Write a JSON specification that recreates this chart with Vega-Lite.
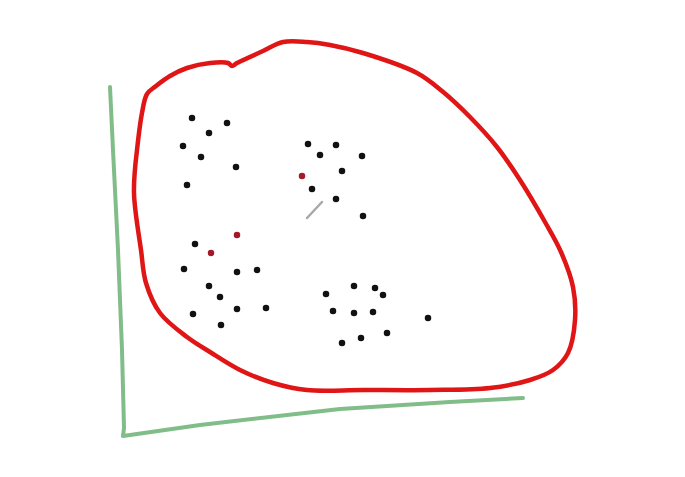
{
  "$schema": "https://vega.github.io/schema/vega-lite/v6.json",
  "width": 685,
  "height": 477,
  "autosize": {"type": "fit", "contains": "padding"},
  "padding": 0,
  "background": "white",
  "config": {"view": {"stroke": null}},
  "datasets": {
    "axes": [
      {"i": 0, "x": 110, "y": 87},
      {"i": 1, "x": 113, "y": 150},
      {"i": 2, "x": 118, "y": 250},
      {"i": 3, "x": 122, "y": 350},
      {"i": 4, "x": 124, "y": 428},
      {"i": 5, "x": 123, "y": 436},
      {"i": 6, "x": 200, "y": 425},
      {"i": 7, "x": 340, "y": 409},
      {"i": 8, "x": 450, "y": 402},
      {"i": 9, "x": 523, "y": 398}
    ],
    "curve": [
      {"i": 0, "x": 137, "y": 150},
      {"i": 1, "x": 142, "y": 113},
      {"i": 2, "x": 147, "y": 94},
      {"i": 3, "x": 156, "y": 86},
      {"i": 4, "x": 170, "y": 76},
      {"i": 5, "x": 187, "y": 68},
      {"i": 6, "x": 210, "y": 63},
      {"i": 7, "x": 228, "y": 63},
      {"i": 8, "x": 232, "y": 66},
      {"i": 9, "x": 237, "y": 63},
      {"i": 10, "x": 263, "y": 51},
      {"i": 11, "x": 283, "y": 42},
      {"i": 12, "x": 307, "y": 42},
      {"i": 13, "x": 330, "y": 45},
      {"i": 14, "x": 363, "y": 53},
      {"i": 15, "x": 417, "y": 73},
      {"i": 16, "x": 442, "y": 91},
      {"i": 17, "x": 470, "y": 117},
      {"i": 18, "x": 497, "y": 147},
      {"i": 19, "x": 520, "y": 180},
      {"i": 20, "x": 545, "y": 222},
      {"i": 21, "x": 561, "y": 252},
      {"i": 22, "x": 573, "y": 287},
      {"i": 23, "x": 575, "y": 320},
      {"i": 24, "x": 568, "y": 353},
      {"i": 25, "x": 553, "y": 370},
      {"i": 26, "x": 530, "y": 380},
      {"i": 27, "x": 490, "y": 388},
      {"i": 28, "x": 430, "y": 390},
      {"i": 29, "x": 363, "y": 390},
      {"i": 30, "x": 307, "y": 390},
      {"i": 31, "x": 273, "y": 383},
      {"i": 32, "x": 240, "y": 370},
      {"i": 33, "x": 210, "y": 352},
      {"i": 34, "x": 187, "y": 337},
      {"i": 35, "x": 160, "y": 313},
      {"i": 36, "x": 146, "y": 283},
      {"i": 37, "x": 141, "y": 250},
      {"i": 38, "x": 134, "y": 193},
      {"i": 39, "x": 137, "y": 150}
    ],
    "stroke": [
      {"i": 0, "x": 307, "y": 218},
      {"i": 1, "x": 322, "y": 202}
    ],
    "dots": [
      {"x": 192, "y": 118, "kind": "black"},
      {"x": 227, "y": 123, "kind": "black"},
      {"x": 209, "y": 133, "kind": "black"},
      {"x": 183, "y": 146, "kind": "black"},
      {"x": 201, "y": 157, "kind": "black"},
      {"x": 236, "y": 167, "kind": "black"},
      {"x": 187, "y": 185, "kind": "black"},
      {"x": 308, "y": 144, "kind": "black"},
      {"x": 336, "y": 145, "kind": "black"},
      {"x": 320, "y": 155, "kind": "black"},
      {"x": 362, "y": 156, "kind": "black"},
      {"x": 342, "y": 171, "kind": "black"},
      {"x": 302, "y": 176, "kind": "red"},
      {"x": 312, "y": 189, "kind": "black"},
      {"x": 336, "y": 199, "kind": "black"},
      {"x": 363, "y": 216, "kind": "black"},
      {"x": 237, "y": 235, "kind": "red"},
      {"x": 195, "y": 244, "kind": "black"},
      {"x": 211, "y": 253, "kind": "red"},
      {"x": 184, "y": 269, "kind": "black"},
      {"x": 237, "y": 272, "kind": "black"},
      {"x": 257, "y": 270, "kind": "black"},
      {"x": 209, "y": 286, "kind": "black"},
      {"x": 220, "y": 297, "kind": "black"},
      {"x": 193, "y": 314, "kind": "black"},
      {"x": 237, "y": 309, "kind": "black"},
      {"x": 266, "y": 308, "kind": "black"},
      {"x": 221, "y": 325, "kind": "black"},
      {"x": 326, "y": 294, "kind": "black"},
      {"x": 354, "y": 286, "kind": "black"},
      {"x": 375, "y": 288, "kind": "black"},
      {"x": 383, "y": 295, "kind": "black"},
      {"x": 333, "y": 311, "kind": "black"},
      {"x": 354, "y": 313, "kind": "black"},
      {"x": 373, "y": 312, "kind": "black"},
      {"x": 428, "y": 318, "kind": "black"},
      {"x": 387, "y": 333, "kind": "black"},
      {"x": 361, "y": 338, "kind": "black"},
      {"x": 342, "y": 343, "kind": "black"}
    ]
  },
  "layer": [
    {
      "data": {"name": "axes"},
      "mark": {"type": "line", "color": "#80bd88", "strokeWidth": 4, "interpolate": "linear", "strokeCap": "round", "strokeJoin": "round"},
      "encoding": {
        "x": {"field": "x", "type": "quantitative", "scale": {"domain": [0, 685], "nice": false, "zero": false}, "axis": null},
        "y": {"field": "y", "type": "quantitative", "scale": {"domain": [0, 477], "reverse": true, "nice": false, "zero": false}, "axis": null},
        "order": {"field": "i", "type": "quantitative"}
      }
    },
    {
      "data": {"name": "curve"},
      "mark": {"type": "line", "color": "#e01515", "strokeWidth": 4.5, "interpolate": "catmull-rom", "strokeCap": "round", "strokeJoin": "round"},
      "encoding": {
        "x": {"field": "x", "type": "quantitative", "scale": {"domain": [0, 685], "nice": false, "zero": false}, "axis": null},
        "y": {"field": "y", "type": "quantitative", "scale": {"domain": [0, 477], "reverse": true, "nice": false, "zero": false}, "axis": null},
        "order": {"field": "i", "type": "quantitative"}
      }
    },
    {
      "data": {"name": "stroke"},
      "mark": {"type": "line", "color": "#a8a8a8", "strokeWidth": 2.5, "strokeCap": "round"},
      "encoding": {
        "x": {"field": "x", "type": "quantitative", "scale": {"domain": [0, 685], "nice": false, "zero": false}, "axis": null},
        "y": {"field": "y", "type": "quantitative", "scale": {"domain": [0, 477], "reverse": true, "nice": false, "zero": false}, "axis": null},
        "order": {"field": "i", "type": "quantitative"}
      }
    },
    {
      "data": {"name": "dots"},
      "mark": {"type": "circle", "size": 42, "opacity": 1},
      "encoding": {
        "x": {"field": "x", "type": "quantitative", "scale": {"domain": [0, 685], "nice": false, "zero": false}, "axis": null},
        "y": {"field": "y", "type": "quantitative", "scale": {"domain": [0, 477], "reverse": true, "nice": false, "zero": false}, "axis": null},
        "color": {"field": "kind", "type": "nominal", "scale": {"domain": ["black", "red"], "range": ["#111111", "#a3182a"]}, "legend": null}
      }
    }
  ]
}
